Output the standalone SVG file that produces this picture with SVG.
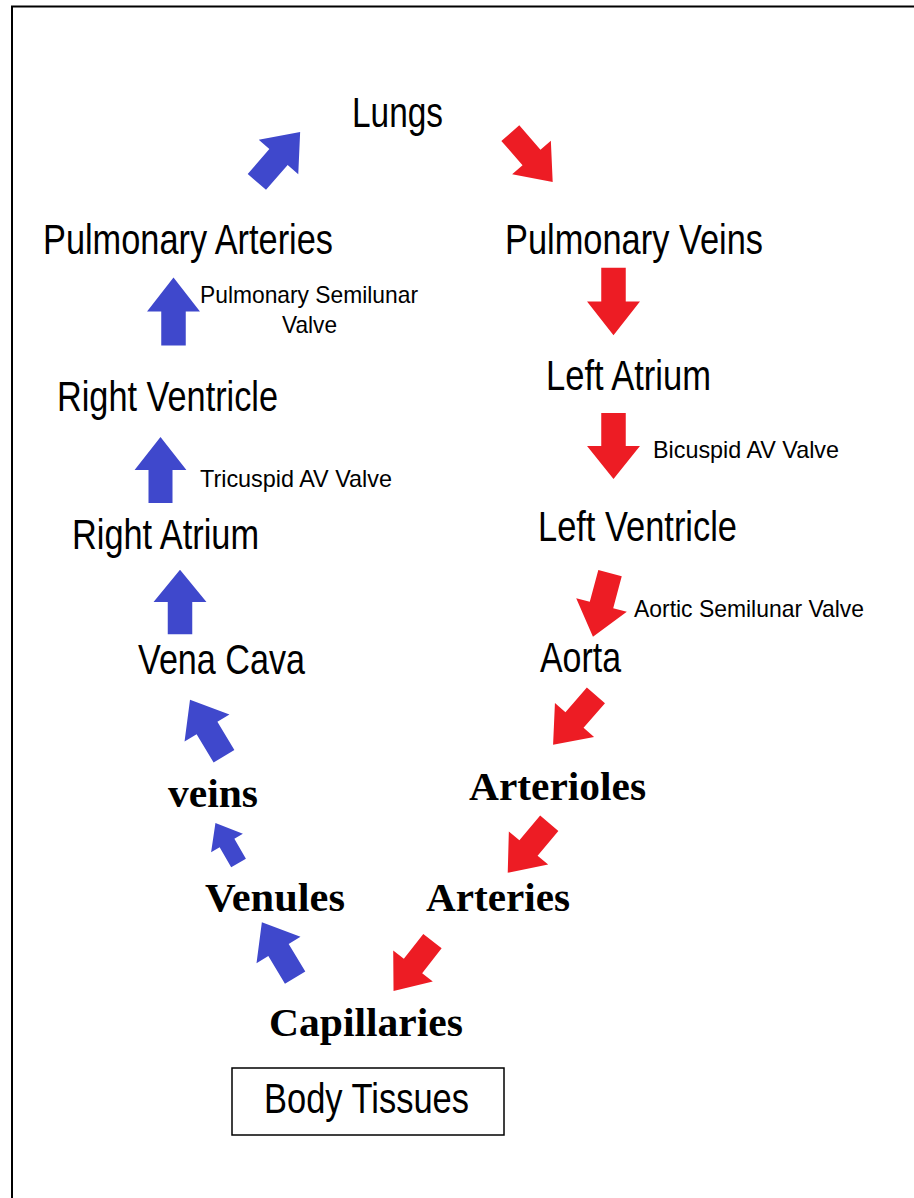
<svg xmlns="http://www.w3.org/2000/svg" xmlns:xlink="http://www.w3.org/1999/xlink" width="914" height="1198" viewBox="0 0 914 1198">
<style>
.sans{font-family:"Liberation Sans",Arial,sans-serif;fill:#000}
.big{font-size:42px}
.small{font-size:24px}
.serif{font-family:"Liberation Serif","Times New Roman",serif;font-weight:bold;font-size:41px;fill:#000}
.blue{fill:#3f48cc}
.red{fill:#ed1c24}
</style>
<defs>
<path id="arrow" d="M0,-34 L27,0 L12.5,0 L12.5,34 L-12.5,34 L-12.5,0 L-27,0 Z"/>
</defs>
<rect x="0" y="0" width="914" height="1198" fill="#fff"/>
<path d="M12,1198 L12,6.5 L914,6.5" fill="none" stroke="#000" stroke-width="2"/>

<g id="connectors">
<use xlink:href="#arrow" class="blue" transform="translate(278.5,157) rotate(41) scale(0.97)"/>
<use xlink:href="#arrow" class="red" transform="translate(531.5,157.5) rotate(139) scale(0.95)"/>
<use xlink:href="#arrow" class="blue" transform="translate(173.5,311.5) scale(0.98,1)"/>
<use xlink:href="#arrow" class="blue" transform="translate(160.5,470) scale(0.96,0.97)"/>
<use xlink:href="#arrow" class="blue" transform="translate(180,602) scale(0.98,0.95)"/>
<use xlink:href="#arrow" class="red" transform="translate(613.5,301.5) rotate(180) scale(0.98,0.99)"/>
<use xlink:href="#arrow" class="red" transform="translate(613.5,446) rotate(180) scale(0.98,0.97)"/>
<use xlink:href="#arrow" class="red" transform="translate(601.5,605) rotate(195) scale(0.97)"/>
<use xlink:href="#arrow" class="red" transform="translate(574.5,720) rotate(221) scale(0.96)"/>
<use xlink:href="#arrow" class="red" transform="translate(528.5,848) rotate(220) scale(0.95)"/>
<use xlink:href="#arrow" class="red" transform="translate(413,966) rotate(218) scale(0.93)"/>
<use xlink:href="#arrow" class="blue" transform="translate(207,728) rotate(-31) scale(0.97)"/>
<use xlink:href="#arrow" class="blue" transform="translate(227,843) rotate(-30) scale(0.68)"/>
<use xlink:href="#arrow" class="blue" transform="translate(278.5,950) rotate(-31) scale(0.95)"/>
</g>

<g id="lungs"><text class="sans big" x="352" y="127" textLength="91" lengthAdjust="spacingAndGlyphs">Lungs</text></g>
<g id="pulmonary-arteries"><text class="sans big" x="43" y="254" textLength="290" lengthAdjust="spacingAndGlyphs">Pulmonary Arteries</text></g>
<g id="pulmonary-veins"><text class="sans big" x="505" y="254" textLength="258" lengthAdjust="spacingAndGlyphs">Pulmonary Veins</text></g>
<g id="pulmonary-semilunar-valve">
<text class="sans small" x="200" y="303" textLength="218" lengthAdjust="spacingAndGlyphs">Pulmonary Semilunar</text>
<text class="sans small" x="282" y="333" textLength="55" lengthAdjust="spacingAndGlyphs">Valve</text>
</g>
<g id="right-ventricle"><text class="sans big" x="57" y="411" textLength="221" lengthAdjust="spacingAndGlyphs">Right Ventricle</text></g>
<g id="tricuspid-av-valve"><text class="sans small" x="200" y="487" textLength="192" lengthAdjust="spacingAndGlyphs">Tricuspid AV Valve</text></g>
<g id="right-atrium"><text class="sans big" x="72" y="549" textLength="187" lengthAdjust="spacingAndGlyphs">Right Atrium</text></g>
<g id="vena-cava"><text class="sans big" x="138" y="674" textLength="167" lengthAdjust="spacingAndGlyphs">Vena Cava</text></g>
<g id="left-atrium"><text class="sans big" x="546" y="390" textLength="165" lengthAdjust="spacingAndGlyphs">Left Atrium</text></g>
<g id="bicuspid-av-valve"><text class="sans small" x="653" y="458" textLength="186" lengthAdjust="spacingAndGlyphs">Bicuspid AV Valve</text></g>
<g id="left-ventricle"><text class="sans big" x="538" y="541" textLength="199" lengthAdjust="spacingAndGlyphs">Left Ventricle</text></g>
<g id="aortic-semilunar-valve"><text class="sans small" x="634" y="617" textLength="230" lengthAdjust="spacingAndGlyphs">Aortic Semilunar Valve</text></g>
<g id="aorta"><text class="sans big" x="540" y="672" textLength="81" lengthAdjust="spacingAndGlyphs">Aorta</text></g>
<g id="arterioles"><text class="serif" x="469" y="800" textLength="177" lengthAdjust="spacingAndGlyphs">Arterioles</text></g>
<g id="veins"><text class="serif" x="168" y="807" textLength="90" lengthAdjust="spacingAndGlyphs">veins</text></g>
<g id="venules"><text class="serif" x="205" y="911" textLength="140" lengthAdjust="spacingAndGlyphs">Venules</text></g>
<g id="arteries"><text class="serif" x="426" y="911" textLength="144" lengthAdjust="spacingAndGlyphs">Arteries</text></g>
<g id="capillaries"><text class="serif" x="269" y="1036" textLength="194" lengthAdjust="spacingAndGlyphs">Capillaries</text></g>
<g id="body-tissues">
<rect x="232" y="1068" width="272" height="67" fill="#fff" stroke="#000" stroke-width="1.5"/>
<text class="sans big" x="264" y="1113" textLength="205" lengthAdjust="spacingAndGlyphs">Body Tissues</text>
</g>
</svg>
